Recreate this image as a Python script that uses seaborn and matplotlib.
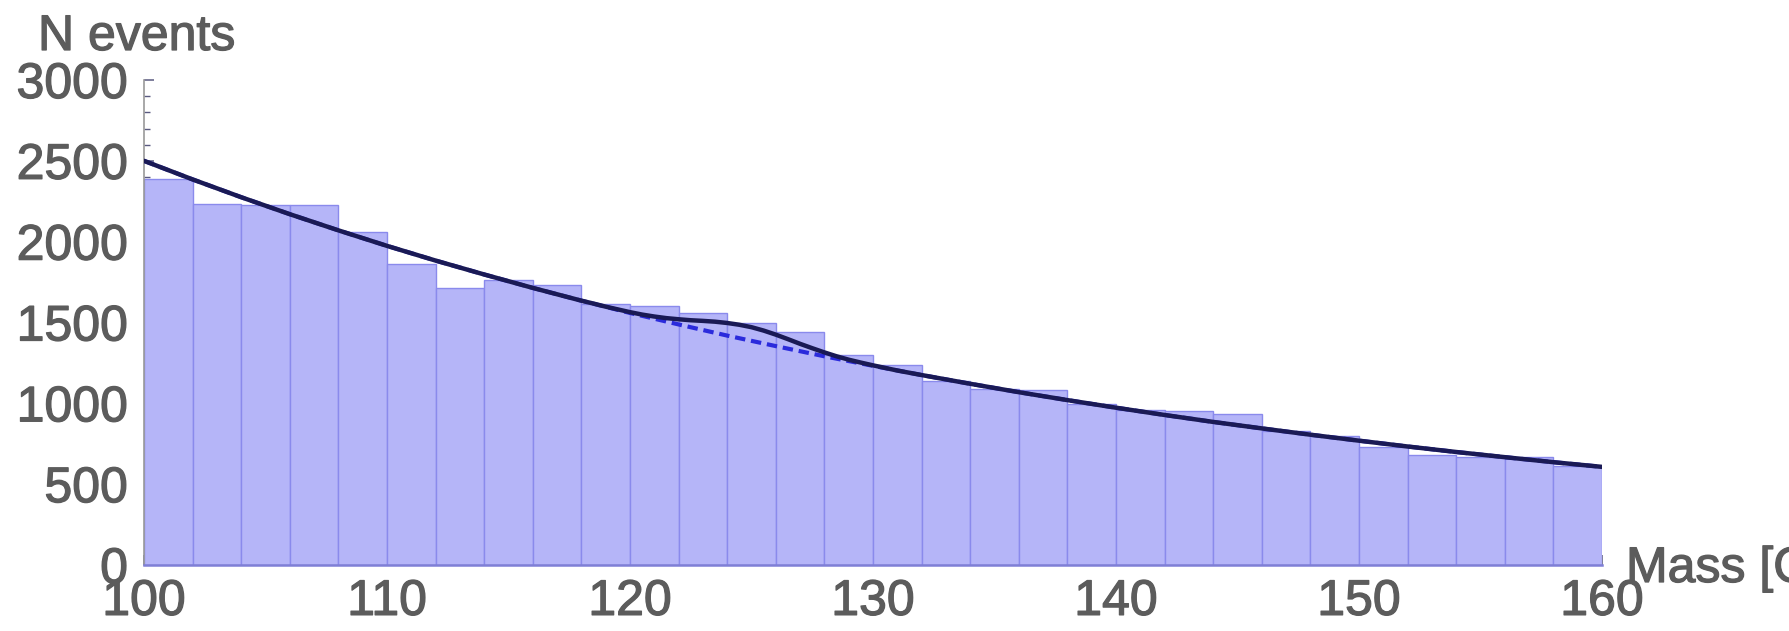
import matplotlib
matplotlib.use("Agg")
import numpy as np
import pandas as pd
import matplotlib.pyplot as plt
import matplotlib.patheffects as pe
import seaborn as sns
from matplotlib.ticker import MultipleLocator

# Histogram: 2 GeV bins from 100 to 160 GeV
bin_edges = list(range(100, 162, 2))
bin_counts = [2385, 2235, 2225, 2225, 2060, 1860, 1715, 1765, 1735, 1615,
              1605, 1560, 1495, 1440, 1300, 1240, 1140, 1090, 1085, 995,
              960, 950, 935, 830, 795, 730, 680, 670, 670, 612]

# Background-only fit (dashed)
bg_mass = list(range(100, 162, 2))
bg_curve = [2500, 2385, 2275, 2170, 2070, 1974, 1883, 1797, 1714, 1635,
            1559, 1488, 1419, 1354, 1291, 1232, 1175, 1121, 1069, 1020,
            973, 928, 885, 845, 806, 769, 733, 699, 667, 636, 607]

# Signal + background fit (solid)
fit_mass = [100, 102, 104, 106, 108, 110, 112, 114, 116,
            118, 118.5, 119, 119.5, 120, 120.5, 121, 121.5, 122, 122.5,
            123, 123.5, 124, 124.5, 125, 125.5, 126, 126.5, 127, 127.5,
            128, 128.5, 129, 129.5, 130, 130.5, 131, 131.5, 132,
            134, 136, 138, 140, 142, 144, 146, 148, 150, 152, 154, 156, 158, 160]
fit_curve = [2500, 2385, 2275, 2170, 2070, 1974, 1883, 1797, 1714,
             1635, 1617, 1598, 1581, 1564, 1549, 1537, 1527, 1520, 1514,
             1510, 1505, 1497, 1486, 1471, 1450, 1425, 1397, 1368, 1341,
             1315, 1291, 1270, 1252, 1235, 1219, 1203, 1189, 1175,
             1121, 1069, 1020, 973, 928, 885, 845, 806, 769, 733, 699, 667, 636, 607]

edges = np.array(bin_edges)
hist_df = pd.DataFrame({"mass": (edges[:-1] + edges[1:]) / 2, "count": bin_counts})

sns.set_style("white")
plt.rcParams["font.family"] = ["Liberation Sans", "DejaVu Sans"]

TEXT_GRAY = "#5c5c5c"
heavier = [pe.withStroke(linewidth=0.9, foreground=TEXT_GRAY)]

fig = plt.figure(figsize=(17.9, 6.31), dpi=100)
ax = fig.add_axes([144 / 1790, 66 / 631, (1602 - 144) / 1790, (565 - 80) / 631])

sns.histplot(data=hist_df, x="mass", weights="count", bins=bin_edges,
             color="#b5b5f8", alpha=1.0, edgecolor="#8a8aec", linewidth=1.0,
             ax=ax)
sns.lineplot(x=bg_mass, y=bg_curve, color="#2b2bdc", linewidth=3.0,
             linestyle=(0, (2.5, 1.4)), ax=ax)
sns.lineplot(x=fit_mass, y=fit_curve, color="#1a1a55", linewidth=3.2, ax=ax)
ax.lines[-2].set_zorder(3)
ax.lines[-1].set_zorder(4)

ax.set_xlim(100, 160)
ax.set_ylim(0, 3000)
ax.set_xlabel("")
ax.set_ylabel("")

for side in ("top", "right"):
    ax.spines[side].set_visible(False)
ax.spines["left"].set_color("#9a9a9a")
ax.spines["left"].set_linewidth(1.2)
ax.spines["bottom"].set_color("#7f7fd6")
ax.spines["bottom"].set_linewidth(1.8)

ax.xaxis.set_major_locator(MultipleLocator(10))
ax.xaxis.set_minor_locator(MultipleLocator(2))
ax.yaxis.set_major_locator(MultipleLocator(500))
ax.yaxis.set_minor_locator(MultipleLocator(100))
ax.tick_params(axis="both", which="major", direction="in", length=7, width=1.1,
               color="#5a5a80", labelsize=36, labelcolor=TEXT_GRAY)
ax.tick_params(axis="both", which="minor", direction="in", length=4, width=1.0,
               color="#5a5a80")
ax.tick_params(axis="y", which="both", pad=11.5, left=True)
ax.tick_params(axis="x", which="both", pad=10, bottom=True)
for lbl in ax.get_xticklabels() + ax.get_yticklabels():
    lbl.set_path_effects(heavier)

fig.text(38 / 1790, 1 - 50 / 631, "N events", ha="left", va="baseline",
         fontsize=36, color=TEXT_GRAY, path_effects=heavier)
fig.text(1626 / 1790, 1 - 582 / 631, "Mass [GeV]", ha="left", va="baseline",
         fontsize=36, color=TEXT_GRAY, path_effects=heavier)

fig.savefig("out.png", dpi=100, facecolor="white")
